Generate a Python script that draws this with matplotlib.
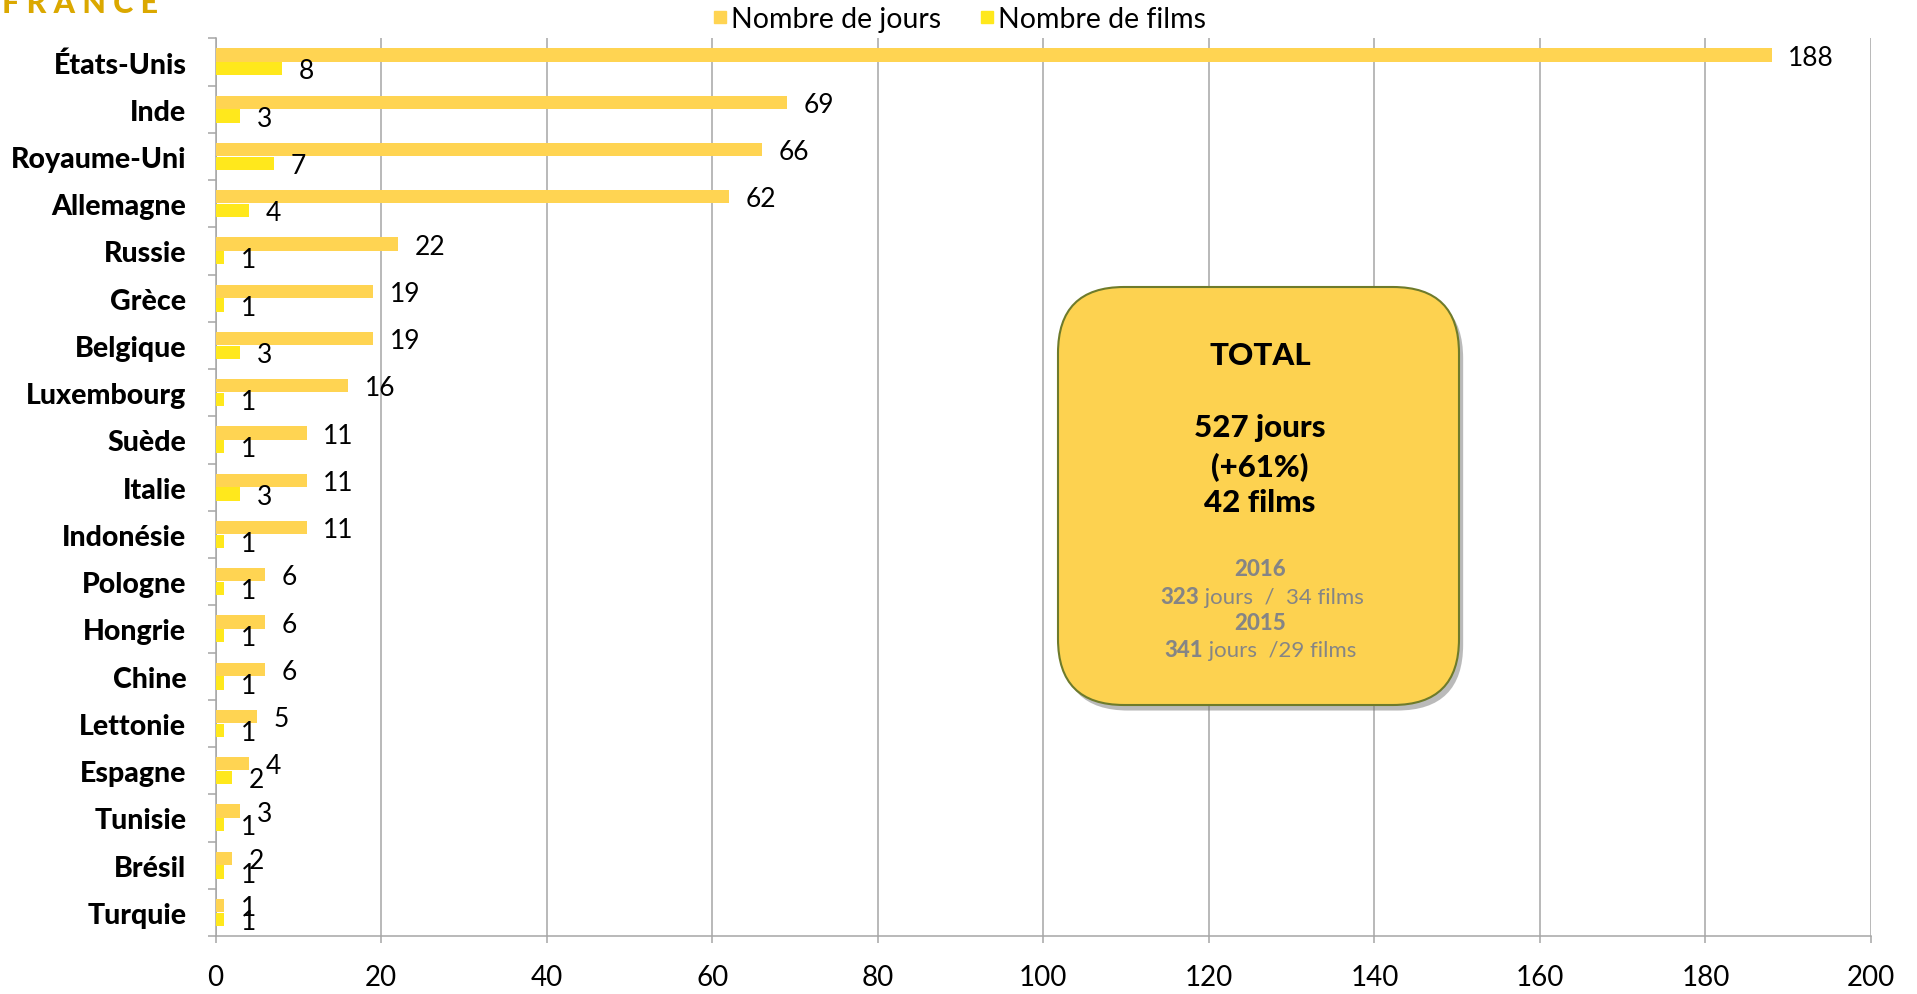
import matplotlib
matplotlib.use("Agg")
import matplotlib.pyplot as plt
import numpy as np
from matplotlib.lines import Line2D
from matplotlib.patches import FancyBboxPatch
from matplotlib import patheffects

plt.rcParams['font.family'] = ['Lato', 'DejaVu Sans']

# Data
pays = ['États-Unis', 'Inde', 'Royaume-Uni', 'Allemagne', 'Russie', 'Grèce',
        'Belgique', 'Luxembourg', 'Suède', 'Italie', 'Indonésie', 'Pologne',
        'Hongrie', 'Chine', 'Lettonie', 'Espagne', 'Tunisie', 'Brésil', 'Turquie']
jours = [188, 69, 66, 62, 22, 19, 19, 16, 11, 11, 11, 6, 6, 6, 5, 4, 3, 2, 1]
films = [8, 3, 7, 4, 1, 1, 3, 1, 1, 3, 1, 1, 1, 1, 1, 2, 1, 1, 1]
x_ticks = [0, 20, 40, 60, 80, 100, 120, 140, 160, 180, 200]

c_jours = '#FFD452'
c_films = '#FFE81C'
c_grid = '#A6A6A6'

W, H = 1917, 995
fig = plt.figure(figsize=(W / 100, H / 100), dpi=100)
ax = fig.add_axes([215.6 / W, 1 - 937 / H, (1871 - 215.6) / W, (937 - 39.3) / H])

y = np.arange(len(pays))
h = 0.28
ax.barh(y - 0.146, jours, height=h, color=c_jours, zorder=3)
ax.barh(y + 0.144, films, height=h, color=c_films, zorder=3)

for yi, v in zip(y, jours):
    ax.annotate(str(v), (v, yi - 0.146), xytext=(12, -1.5), textcoords='offset points',
                va='center', ha='left', fontsize=19, zorder=4)
for yi, v in zip(y, films):
    ax.annotate(str(v), (v, yi + 0.144), xytext=(12, -1.5), textcoords='offset points',
                va='center', ha='left', fontsize=19, zorder=4)

ax.set_xlim(0, 200)
ax.set_ylim(len(pays) - 0.5, -0.5)
ax.set_xticks(x_ticks)
ax.set_xticklabels([str(t) for t in x_ticks], fontsize=20)
ax.set_yticks(y)
ax.set_yticklabels(pays, fontsize=20.5, fontweight='black')
ax.set_yticks(np.arange(len(pays) + 1) - 0.5, minor=True)
ax.tick_params(axis='y', which='major', length=0, pad=21)
ax.tick_params(axis='y', which='minor', length=6, width=1.1, color=c_grid)
ax.tick_params(axis='x', length=5, width=1.1, color=c_grid, pad=15)

ax.grid(axis='x', color=c_grid, linewidth=1.1, zorder=0)
ax.set_axisbelow(True)
for s in ['top', 'right']:
    ax.spines[s].set_visible(False)
for s in ['left', 'bottom']:
    ax.spines[s].set_color(c_grid)
    ax.spines[s].set_linewidth(1.1)

# Legend
handles = [Line2D([], [], marker='s', linestyle='none', color=c_jours, markersize=9),
           Line2D([], [], marker='s', linestyle='none', color=c_films, markersize=9)]
fig.legend(handles, ['Nombre de jours', 'Nombre de films'], loc='center',
           bbox_to_anchor=(0.5, 1 - 20 / H), ncol=2, frameon=False, fontsize=20.5,
           handlelength=0.6, handletextpad=0.1, columnspacing=1.3)

# Logo text clipped at the top
fig.text(2 / W, 1 - 13 / H, 'F R A N C E', color='#DBA800', fontsize=22,
         fontweight='black', ha='left', va='baseline')

# TOTAL box
box = FancyBboxPatch((1058 / 100, (H - 706) / 100), 4.01, 4.18,
                     boxstyle='round,pad=0,rounding_size=0.66',
                     transform=fig.dpi_scale_trans, facecolor='#FDD250',
                     edgecolor='#6E7B2B', linewidth=1.5, zorder=5)
box.set_path_effects([patheffects.SimplePatchShadow(offset=(3, -4), shadow_rgbFace='#777777', alpha=0.5),
                      patheffects.Normal()])
fig.patches.append(box)

cx = 1260 / W
def fy(py):
    return 1 - py / H

big = 22.5
fig.text(cx, fy(356), 'TOTAL', ha='center', va='center', fontsize=big, fontweight='black', zorder=6)
fig.text(cx, fy(428), '527 jours', ha='center', va='center', fontsize=big, fontweight='black', zorder=6)
fig.text(cx, fy(468), '(+61%)', ha='center', va='center', fontsize=big, fontweight='black', zorder=6)
fig.text(cx, fy(503), '42 films', ha='center', va='center', fontsize=big, fontweight='black', zorder=6)

gray = '#858585'
small = 16
fig.text(cx, fy(570), '2016', ha='center', va='center', fontsize=small, fontweight='black', color=gray, zorder=6)
fig.text(1199 / W, fy(598), '323', ha='right', va='center', fontsize=small, fontweight='black', color=gray, zorder=6)
fig.text(1199 / W, fy(598), ' jours  /  34 films', ha='left', va='center', fontsize=small, color=gray, zorder=6)
fig.text(cx, fy(623), '2015', ha='center', va='center', fontsize=small, fontweight='black', color=gray, zorder=6)
fig.text(1203 / W, fy(651), '341', ha='right', va='center', fontsize=small, fontweight='black', color=gray, zorder=6)
fig.text(1203 / W, fy(651), ' jours  /29 films', ha='left', va='center', fontsize=small, color=gray, zorder=6)

fig.savefig('out.png', dpi=100)
